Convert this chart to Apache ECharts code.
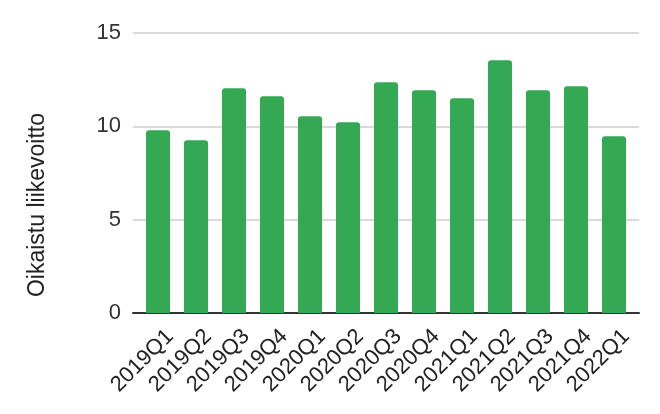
<!DOCTYPE html>
<html>
<head>
<meta charset="utf-8">
<script src="https://cdn.jsdelivr.net/npm/echarts@6/dist/echarts.min.js"></script>
<style>
html,body{margin:0;padding:0;background:#fff;}
#chart{width:660px;height:414px;}
</style>
</head>
<body>
<div id="chart"></div>
<script>
const categories = ['2019Q1','2019Q2','2019Q3','2019Q4','2020Q1','2020Q2','2020Q3','2020Q4','2021Q1','2021Q2','2021Q3','2021Q4','2022Q1'];
const values = [9.79, 9.25, 12.04, 11.61, 10.54, 10.22, 12.36, 11.93, 11.5, 13.54, 11.93, 12.15, 9.47];
const yTicks = [0, 5, 10, 15];
const yAxisTitle = 'Oikaistu liikevoitto';

const chart = echarts.init(document.getElementById('chart'));
const font = '"Liberation Sans", Arial, sans-serif';
const yMin = yTicks[0], yMax = yTicks[yTicks.length - 1];
chart.setOption({
  animation: false,
  grid: [
    {left: 133, right: 21, top: 33, bottom: 101},
    {left: 139, right: 27, top: 33, bottom: 101},
    {left: 151, right: 15, top: 33, bottom: 101}
  ],
  xAxis: [{
    gridIndex: 0,
    type: 'category',
    data: [''],
    axisLine: {lineStyle: {color: '#333', width: 2}},
    axisTick: {show: false},
    axisLabel: {show: false}
  }, {
    gridIndex: 1,
    type: 'category',
    data: categories,
    axisLine: {show: false},
    axisTick: {show: false},
    axisLabel: {show: false}
  }, {
    gridIndex: 2,
    type: 'category',
    data: categories,
    axisLine: {show: false},
    axisTick: {show: false},
    axisLabel: {rotate: 45, fontSize: 22, color: '#222', fontFamily: font, margin: 20, interval: 0}
  }],
  yAxis: [{
    gridIndex: 0,
    type: 'value',
    min: yMin, max: yMax, interval: 5,
    axisLine: {show: false},
    axisTick: {show: false},
    splitLine: {lineStyle: {color: '#cccccc', width: 1.5}},
    axisLabel: {fontSize: 22, color: '#333', fontFamily: font, margin: 12}
  }, {
    gridIndex: 1,
    type: 'value',
    min: yMin, max: yMax, interval: 5,
    show: false
  }, {
    gridIndex: 2,
    type: 'value',
    min: yMin, max: yMax, interval: 5,
    show: false
  }],
  graphic: [{
    type: 'text',
    x: 38,
    y: 205,
    rotation: Math.PI / 2,
    style: {text: yAxisTitle, font: '23px "Liberation Sans", Arial, sans-serif', fill: '#222', textAlign: 'center', textVerticalAlign: 'middle'}
  }],
  series: [{
    type: 'bar',
    xAxisIndex: 1,
    yAxisIndex: 1,
    data: values,
    barWidth: 24,
    itemStyle: {color: '#34a853', borderRadius: [3, 3, 0, 0]}
  }]
});
</script>
</body>
</html>
